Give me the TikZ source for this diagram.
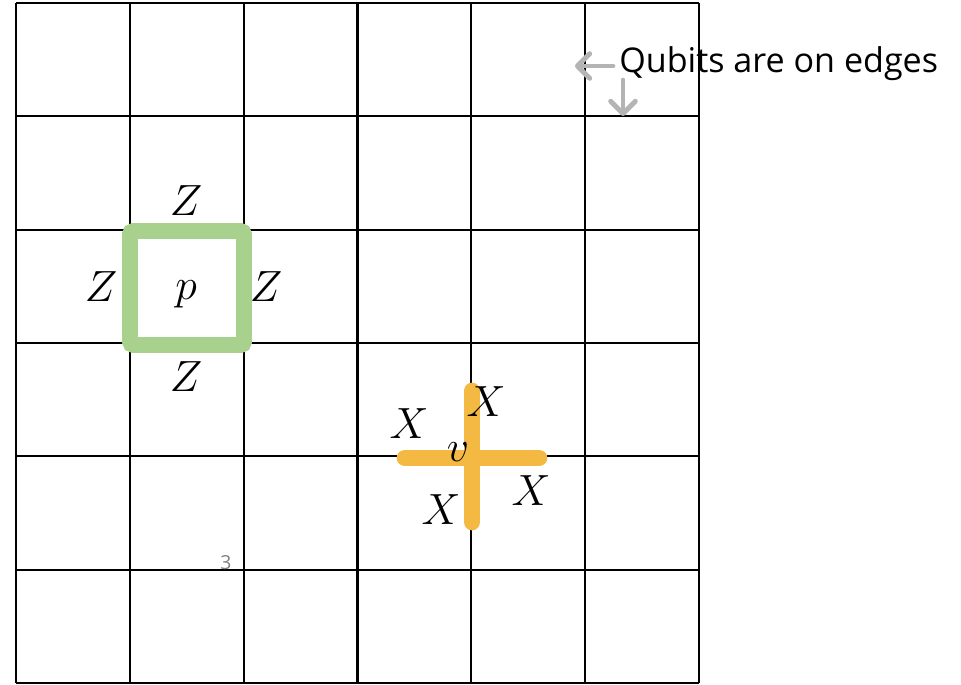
\documentclass[tikz,border=0pt]{standalone}
\usepackage{fontspec}
\newfontfamily\notefont{Open Sans}
\usepackage{xcolor}
\usetikzlibrary{arrows.meta,positioning}
\definecolor{plaqgreen}{HTML}{A9D18E}
\definecolor{vertorange}{HTML}{F4B942}
\definecolor{hintgray}{HTML}{B4B4B4}

\begin{document}
\begin{tikzpicture}[
    x=0.02cm, y=-0.02cm,
    gridline/.style={line width=1.3pt, black},
    plaq/.style={line width=9pt, color=plaqgreen, rounded corners=2pt},
    vstar/.style={line width=9.5pt, color=vertorange, line cap=round},
    op/.style={font=\fontsize{23}{27}\selectfont, inner sep=0pt},
    hint/.style={-{Straight Barb[length=7pt,width=14pt,round]}, line width=2.8pt,
                 color=hintgray, line cap=round},
  ]
  \useasboundingbox (0,0) rectangle (961,684);

  % lattice
  \foreach \i in {0,...,6} {
    \draw[gridline] (16+\i*113.83,3) -- (16+\i*113.83,683);
    \draw[gridline] (16,3+\i*113.33) -- (699,3+\i*113.33);
  }

  % plaquette
  \draw[plaq] (130,231) rectangle (244,345);
  \node[op] (p) at (186,294) {$p$};
  \node[op] (zt) at (186,201) {$Z$};
  \node[op] (zl) at (101,287) {$Z$};
  \node[op] (zr) at (266,287) {$Z$};
  \node[op] (zb) at (186,377) {$Z$};

  % vertex
  \draw[vstar] (472,391) -- (472,522);
  \draw[vstar] (405,458) -- (539,458);
  \node[op] (v) at (458,452) {$v$};
  \node[op] (xnw) at (409,424) {$X$};
  \node[op] (xne) at (486,402) {$X$};
  \node[op] (xsw) at (441,510) {$X$};
  \node[op] (xse) at (531,491) {$X$};

  % note
  \node[font=\notefont\fontsize{19.4}{23}\selectfont, anchor=west, inner sep=0pt]
    (note) at (619,64) {Qubits are on edges};
  \coordinate (hl) at (575,66);
  \coordinate (hd) at (623,116);
  \draw[hint] (613,66) -- (hl);
  \draw[hint] (623,80) -- (hd);

  \node[font=\notefont\fontsize{11}{13}\selectfont, text=gray, inner sep=0pt] (pg) at (226,563) {3};
\end{tikzpicture}
\end{document}
